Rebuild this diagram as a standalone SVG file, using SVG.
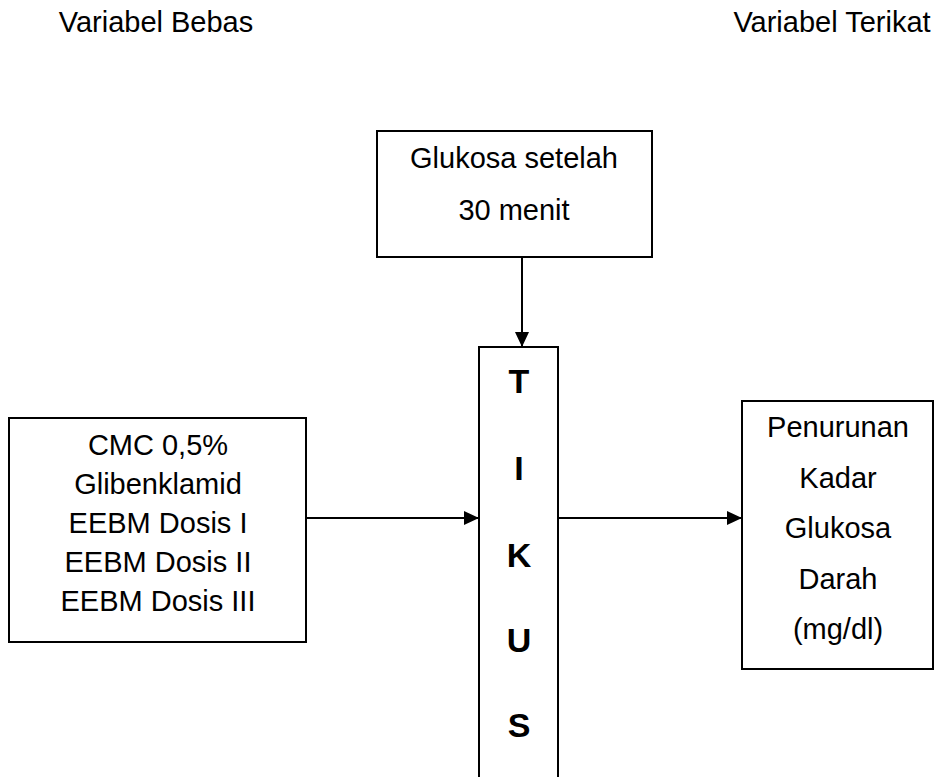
<svg xmlns="http://www.w3.org/2000/svg" width="942" height="777" viewBox="0 0 942 777">
<defs>
<marker id="ah" markerWidth="15" markerHeight="14" refX="15" refY="7" orient="auto" markerUnits="userSpaceOnUse">
<path d="M0,0 L15,7 L0,14 Z" fill="#000"/>
</marker>
<style>
.box{fill:#fff;stroke:#000;stroke-width:2}
.t{font-family:"Liberation Sans",Arial,sans-serif;font-size:29px;fill:#000;text-anchor:middle}
.b{font-family:"Liberation Sans",Arial,sans-serif;font-size:34px;font-weight:bold;fill:#000;text-anchor:middle}
.c{stroke:#000;stroke-width:2;fill:none}
</style>
</defs>
<rect width="942" height="777" fill="#fff"/>
<g id="label-bebas"><text class="t" x="156" y="32">Variabel Bebas</text></g>
<g id="label-terikat"><text class="t" x="832" y="32">Variabel Terikat</text></g>
<g id="glukosa">
<rect class="box" x="377" y="131" width="275" height="126"/>
<text class="t" x="514" y="168">Glukosa setelah</text>
<text class="t" x="514" y="220">30 menit</text>
</g>
<g id="tikus">
<rect class="box" x="479" y="347" width="79" height="440"/>
<text class="b" x="519" y="393">T</text>
<text class="b" x="519" y="480">I</text>
<text class="b" x="519" y="567">K</text>
<text class="b" x="519" y="652">U</text>
<text class="b" x="519" y="737">S</text>
</g>
<g id="perlakuan">
<rect class="box" x="9" y="418" width="297" height="224"/>
<text class="t" x="158" y="455">CMC 0,5%</text>
<text class="t" x="158" y="494">Glibenklamid</text>
<text class="t" x="158" y="533">EEBM Dosis I</text>
<text class="t" x="158" y="572">EEBM Dosis II</text>
<text class="t" x="158" y="611">EEBM Dosis III</text>
</g>
<g id="penurunan">
<rect class="box" x="742" y="401" width="191" height="268"/>
<text class="t" x="838" y="437">Penurunan</text>
<text class="t" x="838" y="488">Kadar</text>
<text class="t" x="838" y="538">Glukosa</text>
<text class="t" x="838" y="589">Darah</text>
<text class="t" x="838" y="639">(mg/dl)</text>
</g>
<g id="connectors">
<line class="c" x1="522" y1="257" x2="522" y2="347" marker-end="url(#ah)"/>
<line class="c" x1="306" y1="518" x2="479" y2="518" marker-end="url(#ah)"/>
<line class="c" x1="558" y1="518" x2="742" y2="518" marker-end="url(#ah)"/>
</g>
</svg>
